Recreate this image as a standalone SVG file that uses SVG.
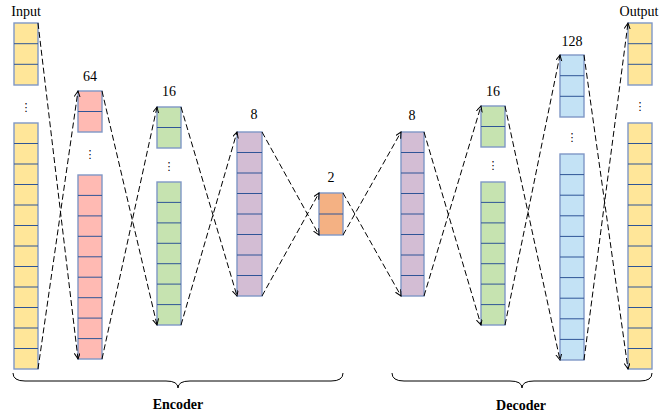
<svg xmlns="http://www.w3.org/2000/svg" width="659" height="416" viewBox="0 0 659 416">
<defs>
<style>
.seg{stroke:#7f97c6;stroke-width:1.4}
.cl{stroke:#2f5597;stroke-width:1;fill:none}
.y{fill:#ffe699}.p{fill:#ffbab3}.g{fill:#c6e3b0}.v{fill:#d3bdd4}.o{fill:#f4b183}.b{fill:#c3e2f5}
.lbl{font-family:"Liberation Serif",serif;font-size:14px;fill:#000;text-anchor:middle}
.dots{font-family:"DejaVu Sans",sans-serif;font-size:11px;fill:#000;text-anchor:middle}
.ttl{font-family:"Liberation Serif",serif;font-size:14px;font-weight:bold;fill:#000;text-anchor:middle}
.con{stroke:#000;stroke-width:1;stroke-dasharray:6,3;fill:none}
.brace{stroke:#000;stroke-width:1;fill:none}
</style>
<marker id="ah" markerUnits="userSpaceOnUse" markerWidth="8" markerHeight="8" refX="6" refY="3" orient="auto">
<path d="M0,0 L6,3 L0,6" fill="none" stroke="#000" stroke-width="1"/>
</marker>
</defs>
<rect width="659" height="416" fill="#fff"/>

<g id="input">
<text class="lbl" x="26" y="16">Input</text>
<rect class="seg y" x="14" y="23" width="24" height="62"/>
<path class="cl" d="M14,43.7H38M14,64.3H38"/>
<text class="dots" x="26" y="111">⋮</text>
<rect class="seg y" x="14" y="123" width="24" height="246"/>
<path class="cl" d="M14,143.5H38M14,164H38M14,184.5H38M14,205H38M14,225.5H38M14,246H38M14,266.5H38M14,287H38M14,307.5H38M14,328H38M14,348.5H38"/>
</g>

<g id="enc64">
<text class="lbl" x="90" y="81">64</text>
<rect class="seg p" x="78" y="91" width="24" height="41"/>
<path class="cl" d="M78,111.5H102"/>
<text class="dots" x="90" y="158">⋮</text>
<rect class="seg p" x="78" y="175" width="24" height="184"/>
<path class="cl" d="M78,195.4H102M78,215.9H102M78,236.3H102M78,256.8H102M78,277.2H102M78,297.7H102M78,318.1H102M78,338.6H102"/>
</g>

<g id="enc16">
<text class="lbl" x="169" y="96">16</text>
<rect class="seg g" x="157" y="107" width="24" height="41"/>
<path class="cl" d="M157,127.5H181"/>
<text class="dots" x="169" y="170">⋮</text>
<rect class="seg g" x="157" y="182" width="24" height="143"/>
<path class="cl" d="M157,202.4H181M157,222.9H181M157,243.3H181M157,263.7H181M157,284.1H181M157,304.6H181"/>
</g>

<g id="enc8">
<text class="lbl" x="254" y="119">8</text>
<rect class="seg v" x="237" y="132" width="25" height="164"/>
<path class="cl" d="M237,152.5H262M237,173H262M237,193.5H262M237,214H262M237,234.5H262M237,255H262M237,275.5H262"/>
</g>

<g id="latent2">
<text class="lbl" x="331" y="182">2</text>
<rect class="seg o" x="319" y="193" width="24" height="42"/>
<path class="cl" d="M319,214H343"/>
</g>

<g id="dec8">
<text class="lbl" x="412" y="120">8</text>
<rect class="seg v" x="401" y="132" width="23" height="164"/>
<path class="cl" d="M401,152.5H424M401,173H424M401,193.5H424M401,214H424M401,234.5H424M401,255H424M401,275.5H424"/>
</g>

<g id="dec16">
<text class="lbl" x="493" y="96">16</text>
<rect class="seg g" x="481" y="106" width="24" height="41"/>
<path class="cl" d="M481,126.5H505"/>
<text class="dots" x="493" y="169">⋮</text>
<rect class="seg g" x="481" y="182" width="24" height="143"/>
<path class="cl" d="M481,202.4H505M481,222.9H505M481,243.3H505M481,263.7H505M481,284.1H505M481,304.6H505"/>
</g>

<g id="dec128">
<text class="lbl" x="572" y="46">128</text>
<rect class="seg b" x="560" y="55" width="24" height="62"/>
<path class="cl" d="M560,75.7H584M560,96.3H584"/>
<text class="dots" x="572" y="141">⋮</text>
<rect class="seg b" x="560" y="154" width="24" height="206"/>
<path class="cl" d="M560,174.6H584M560,195.2H584M560,215.8H584M560,236.4H584M560,257H584M560,277.6H584M560,298.2H584M560,318.8H584M560,339.4H584"/>
</g>

<g id="output">
<text class="lbl" x="639" y="16">Output</text>
<rect class="seg y" x="628" y="23" width="24" height="62"/>
<path class="cl" d="M628,43.7H652M628,64.3H652"/>
<text class="dots" x="640" y="110">⋮</text>
<rect class="seg y" x="628" y="123" width="24" height="246"/>
<path class="cl" d="M628,143.5H652M628,164H652M628,184.5H652M628,205H652M628,225.5H652M628,246H652M628,266.5H652M628,287H652M628,307.5H652M628,328H652M628,348.5H652"/>
</g>

<g id="connectors">
<path class="con" d="M38,23L78,359" marker-end="url(#ah)"/>
<path class="con" d="M38,369L78,91" marker-end="url(#ah)"/>
<path class="con" d="M102,91L157,325" marker-end="url(#ah)"/>
<path class="con" d="M102,359L157,107" marker-end="url(#ah)"/>
<path class="con" d="M181,107L237,296" marker-end="url(#ah)"/>
<path class="con" d="M181,325L237,132" marker-end="url(#ah)"/>
<path class="con" d="M262,132L319,235" marker-end="url(#ah)"/>
<path class="con" d="M262,296L319,193" marker-end="url(#ah)"/>
<path class="con" d="M343,193L401,296" marker-end="url(#ah)"/>
<path class="con" d="M343,235L401,132" marker-end="url(#ah)"/>
<path class="con" d="M424,132L481,325" marker-end="url(#ah)"/>
<path class="con" d="M424,296L481,106" marker-end="url(#ah)"/>
<path class="con" d="M505,106L560,360" marker-end="url(#ah)"/>
<path class="con" d="M505,325L560,55" marker-end="url(#ah)"/>
<path class="con" d="M584,55L628,369" marker-end="url(#ah)"/>
<path class="con" d="M584,360L628,23" marker-end="url(#ah)"/>
</g>

<g id="encoder">
<path class="brace" d="M13,373Q13,381 25,381L166,381Q178,381 178,388Q178,381 190,381L331,381Q343,381 343,373"/>
<text class="ttl" x="178" y="409">Encoder</text>
</g>
<g id="decoder">
<path class="brace" d="M392,373Q392,381 404,381L510,381Q522,381 522,388Q522,381 534,381L640,381Q652,381 652,373"/>
<text class="ttl" x="521" y="410">Decoder</text>
</g>
</svg>
